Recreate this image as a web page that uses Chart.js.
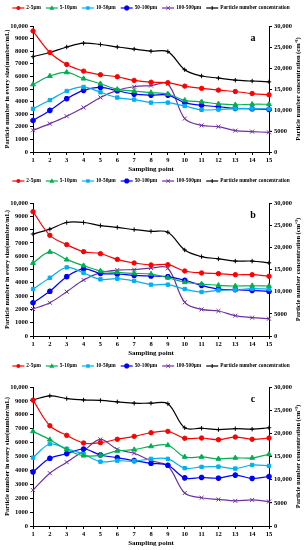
<!DOCTYPE html>
<html>
<head>
<meta charset="utf-8">
<script src="https://cdn.jsdelivr.net/npm/chart.js@4.4.0/dist/chart.umd.min.js"></script>
<style>
  body { margin: 0; background: #fff; }
  .panel { position: absolute; left: 0; width: 308px; }
</style>
</head>
<body>
<div class="panel" style="top:0;height:176px"><canvas id="chartA"></canvas></div>
<div class="panel" style="top:176px;height:184px"><canvas id="chartB"></canvas></div>
<div class="panel" style="top:360px;height:190px"><canvas id="chartC"></canvas></div>
<script>
const points = ["1","2","3","4","5","6","7","8","9","10","11","12","13","14","15"];
const sizeNames = ["2-5μm", "5-10μm", "10-50μm", "50-100μm", "100-500μm"];
const totalName = "Particle number concentration";

// panel a
const a_2_5 = [9600, 7900, 6950, 6420, 6130, 5970, 5680, 5540, 5500, 5230, 5050, 4910, 4800, 4640, 4540];
const a_5_10 = [5360, 6030, 6320, 5820, 5420, 4970, 4840, 4710, 4600, 4100, 3980, 3820, 3750, 3790, 3790];
const a_10_50 = [3430, 4120, 4840, 5160, 4740, 4320, 4160, 3920, 3920, 3650, 3350, 3370, 3450, 3450, 3420];
const a_50_100 = [2500, 3300, 4230, 4890, 5130, 4860, 4590, 4510, 4510, 3920, 3710, 3590, 3460, 3430, 3380];
const a_100_500 = [1720, 2250, 2840, 3530, 4330, 4890, 5180, 5270, 5400, 2650, 2110, 2010, 1700, 1620, 1560];
const a_total = [22700, 23700, 25000, 25900, 25600, 25000, 24500, 24000, 23900, 19600, 18100, 17600, 17100, 16900, 16700];

// panel b
const b_2_5 = [9350, 7570, 6870, 6340, 6190, 5760, 5490, 5340, 5360, 4890, 4740, 4690, 4610, 4610, 4490];
const b_5_10 = [5490, 6320, 5740, 5290, 4890, 4790, 4710, 4660, 4380, 4040, 3910, 3810, 3760, 3780, 3760];
const b_10_50 = [3530, 4380, 5160, 4740, 4260, 4310, 4140, 3860, 3860, 3530, 3310, 3430, 3480, 3560, 3530];
const b_50_100 = [2500, 3360, 4460, 5040, 4710, 4660, 4560, 4510, 4460, 4190, 3810, 3530, 3480, 3430, 3360];
const b_100_500 = [2030, 2500, 3330, 4210, 4760, 4960, 4990, 5110, 5090, 2530, 2000, 1880, 1530, 1380, 1300];
const b_total = [23000, 24100, 25600, 25600, 24900, 24500, 24000, 23600, 23400, 19400, 17900, 17400, 16900, 16900, 16500];

// panel c
const c_2_5 = [9050, 7210, 6520, 5970, 5990, 6240, 6450, 6710, 6810, 6310, 6330, 6210, 6400, 6240, 6330];
const c_5_10 = [6810, 6210, 5490, 5060, 5080, 5400, 5490, 5730, 5810, 4970, 4970, 4830, 4900, 4900, 5160];
const c_10_50 = [4920, 5900, 5560, 5160, 4630, 4700, 4660, 4830, 4830, 4160, 4250, 4270, 4130, 4390, 4320];
const c_50_100 = [3890, 4870, 5200, 5540, 5110, 4920, 4700, 4510, 4370, 3460, 3490, 3440, 3660, 3420, 3560];
const c_100_500 = [2580, 3800, 4590, 5400, 6230, 5520, 5230, 4700, 4320, 2370, 2030, 1910, 1810, 1880, 1760];
const c_total = [27200, 28100, 27500, 27200, 27100, 26800, 26500, 26500, 26400, 21200, 21100, 20800, 21000, 20900, 21200];

const FONT = "'Liberation Serif', 'Times New Roman', serif";
Chart.defaults.font.family = FONT;
Chart.defaults.font.weight = "bold";
Chart.defaults.font.size = 6.5;
Chart.defaults.color = "#000";

const looks = [
  { color: "#ff0000", style: "circle", r: 2.2 },
  { color: "#00b050", style: "triangle", r: 2.8 },
  { color: "#00b0f0", style: "rect", r: 2.4 },
  { color: "#0000ff", style: "star", r: 2.8 },
  { color: "#7030a0", style: "crossRot", r: 2.8 },
  { color: "#000000", style: "cross", r: 2.2 },
];

function drawMarker(ctx, style, x, y, r, color) {
  ctx.save();
  ctx.fillStyle = color;
  ctx.strokeStyle = color;
  ctx.lineWidth = 1.2;
  ctx.beginPath();
  if (style === "circle") {
    ctx.arc(x, y, r, 0, Math.PI * 2);
    ctx.fill();
  } else if (style === "triangle") {
    ctx.moveTo(x, y - r * 1.1);
    ctx.lineTo(x + r, y + r * 0.7);
    ctx.lineTo(x - r, y + r * 0.7);
    ctx.closePath();
    ctx.fill();
  } else if (style === "rect") {
    ctx.rect(x - r * 0.8, y - r * 0.8, r * 1.6, r * 1.6);
    ctx.fill();
  } else if (style === "star") {
    ctx.lineWidth = 1.8;
    ctx.moveTo(x - r, y); ctx.lineTo(x + r, y);
    ctx.moveTo(x, y - r); ctx.lineTo(x, y + r);
    ctx.moveTo(x - r * 0.7, y - r * 0.7); ctx.lineTo(x + r * 0.7, y + r * 0.7);
    ctx.moveTo(x - r * 0.7, y + r * 0.7); ctx.lineTo(x + r * 0.7, y - r * 0.7);
    ctx.stroke();
  } else if (style === "crossRot") {
    ctx.lineWidth = 1;
    ctx.moveTo(x - r * 0.7, y - r * 0.7); ctx.lineTo(x + r * 0.7, y + r * 0.7);
    ctx.moveTo(x - r * 0.7, y + r * 0.7); ctx.lineTo(x + r * 0.7, y - r * 0.7);
    ctx.stroke();
  } else {
    ctx.lineWidth = 1;
    ctx.moveTo(x, y - r); ctx.lineTo(x, y + r);
    ctx.stroke();
  }
  ctx.restore();
}

const decor = {
  id: "decor",
  afterDraw(chart, args, opts) {
    const ctx = chart.ctx;
    const area = chart.chartArea;
    ctx.save();
    ctx.fillStyle = "#000";

    // legend
    ctx.font = "bold 5.3px " + FONT;
    ctx.textBaseline = "middle";
    ctx.textAlign = "left";
    const labels = sizeNames.concat([totalName]);
    const lineLen = 12, gap = 2, itemGap = 5;
    let total = 0;
    labels.forEach(function (t, i) {
      total += lineLen + gap + ctx.measureText(t).width + (i < labels.length - 1 ? itemGap : 0);
    });
    let x = (area.left + area.right) / 2 - total / 2;
    const ly = opts.legendY;
    labels.forEach(function (t, i) {
      const lk = looks[i];
      ctx.strokeStyle = lk.color;
      ctx.lineWidth = 1.2;
      ctx.beginPath();
      ctx.moveTo(x, ly);
      ctx.lineTo(x + lineLen, ly);
      ctx.stroke();
      drawMarker(ctx, lk.style, x + lineLen / 2, ly, lk.r * 0.9, lk.color);
      x += lineLen + gap;
      ctx.fillStyle = "#000";
      ctx.fillText(t, x, ly);
      x += ctx.measureText(t).width + itemGap;
    });

    // axis titles
    const midY = (area.top + area.bottom) / 2;
    ctx.font = "bold 6.5px " + FONT;
    ctx.textAlign = "center";
    ctx.save();
    ctx.translate(7, midY);
    ctx.rotate(-Math.PI / 2);
    ctx.fillText("Particle number in every size(number/mL)", 0, 0);
    ctx.restore();
    ctx.save();
    ctx.translate(298, midY);
    ctx.rotate(-Math.PI / 2);
    ctx.fillText("Particle number concentration (cm⁻³)", 0, 0);
    ctx.restore();

    ctx.font = "bold 7px " + FONT;
    ctx.fillText("Sampling point", (area.left + area.right) / 2, area.bottom + 17);

    // panel letter
    ctx.font = "bold 10px " + FONT;
    ctx.fillText(opts.letter, area.right - 16, area.top + 12);
    ctx.restore();
  },
};

function makeSet(label, data, i, axis) {
  const lk = looks[i];
  return {
    label: label,
    data: data,
    yAxisID: axis,
    borderColor: lk.color,
    backgroundColor: lk.color,
    borderWidth: 1.2,
    tension: 0.35,
    pointStyle: lk.style,
    pointRadius: lk.r,
    pointBorderWidth: lk.style === "star" ? 1.8 : 1,
    pointBackgroundColor: lk.color,
    pointBorderColor: lk.color,
  };
}

function leftTick(v) {
  return v === 10000 ? "10,000" : String(v);
}
function rightTick(v) {
  return v >= 10000 ? v.toLocaleString("en-US") : String(v);
}

function makeChart(id, sets, total, letter, padTop, legendY) {
  const axisGrid = { drawOnChartArea: false, drawTicks: true, tickLength: 3, color: "#000" };
  const axisBorder = { color: "#000", width: 1 };
  return new Chart(document.getElementById(id), {
    type: "line",
    data: {
      labels: points,
      datasets: [
        makeSet(sizeNames[0], sets[0], 0, "y"),
        makeSet(sizeNames[1], sets[1], 1, "y"),
        makeSet(sizeNames[2], sets[2], 2, "y"),
        makeSet(sizeNames[3], sets[3], 3, "y"),
        makeSet(sizeNames[4], sets[4], 4, "y"),
        makeSet(totalName, total, 5, "y1"),
      ],
    },
    options: {
      responsive: true,
      maintainAspectRatio: false,
      animation: false,
      layout: { padding: { top: padTop, left: 0, right: 0, bottom: 0 } },
      plugins: {
        legend: { display: false },
        tooltip: { enabled: false },
        decor: { letter: letter, legendY: legendY },
      },
      scales: {
        x: {
          offset: false,
          grid: axisGrid,
          border: axisBorder,
          ticks: { color: "#000", padding: 1, maxRotation: 0, autoSkip: false },
          afterFit: function (s) { s.height = 24; },
        },
        y: {
          position: "left",
          min: 0,
          max: 10000,
          grid: axisGrid,
          border: axisBorder,
          ticks: { stepSize: 1000, padding: 2, callback: leftTick },
          afterFit: function (s) { s.width = 33; },
        },
        y1: {
          position: "right",
          min: 0,
          max: 30000,
          grid: axisGrid,
          border: axisBorder,
          ticks: { stepSize: 5000, padding: 2, callback: rightTick },
          afterFit: function (s) { s.width = 39; },
        },
      },
    },
    plugins: [decor],
  });
}

makeChart("chartA", [a_2_5, a_5_10, a_10_50, a_50_100, a_100_500], a_total, "a", 26, 8);
makeChart("chartB", [b_2_5, b_5_10, b_10_50, b_50_100, b_100_500], b_total, "b", 27, 5);
makeChart("chartC", [c_2_5, c_5_10, c_10_50, c_50_100, c_100_500], c_total, "c", 27, 6);
</script>
</body>
</html>
